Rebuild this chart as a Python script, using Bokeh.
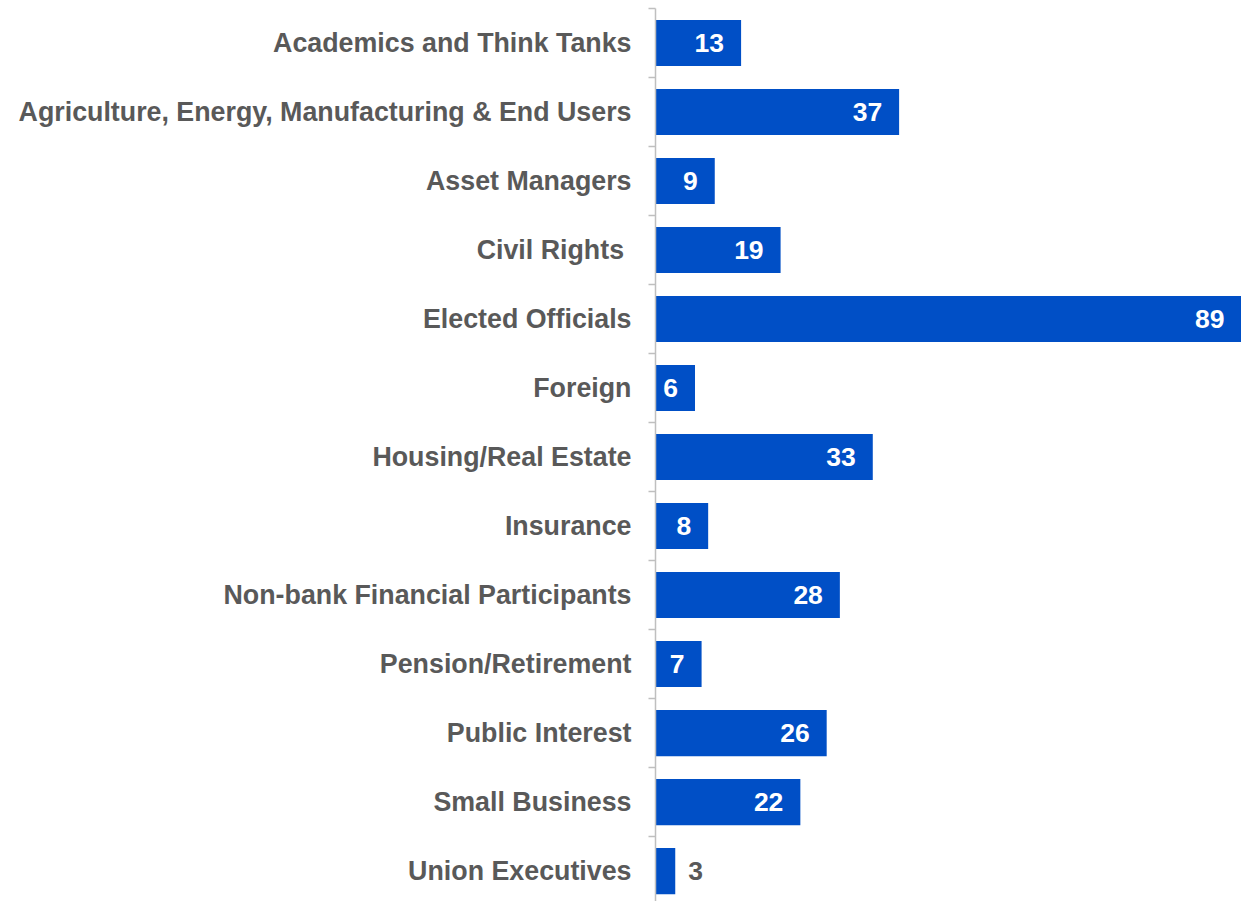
from bokeh.plotting import figure
from bokeh.models import Range1d, FixedTicker, ColumnDataSource
from bokeh.core.properties import value
from bokeh.embed import file_html
from bokeh.resources import INLINE

categories = [
    "Academics and Think Tanks",
    "Agriculture, Energy, Manufacturing & End Users",
    "Asset Managers",
    "Civil Rights ",
    "Elected Officials",
    "Foreign",
    "Housing/Real Estate",
    "Insurance",
    "Non-bank Financial Participants",
    "Pension/Retirement",
    "Public Interest",
    "Small Business",
    "Union Executives",
]
counts = [13, 37, 9, 19, 89, 6, 33, 8, 28, 7, 26, 22, 3]

n = len(categories)
pos = list(range(n))
labels = [str(v) for v in counts]
inside = [v >= 5 for v in counts]

src_bars = ColumnDataSource(dict(y=pos, v=counts))
src_in = ColumnDataSource(dict(
    y=[p_ for p_, k in zip(pos, inside) if k],
    v=[v for v, k in zip(counts, inside) if k],
    t=[t for t, k in zip(labels, inside) if k],
))
src_out = ColumnDataSource(dict(
    y=[p_ for p_, k in zip(pos, inside) if not k],
    v=[v for v, k in zip(counts, inside) if not k],
    t=[t for t, k in zip(labels, inside) if not k],
))

FONT = "Liberation Sans"
GRAY = "#595959"
BLUE = "#004FC6"

p = figure(
    width=1241, height=901,
    x_range=Range1d(0, 89), y_range=Range1d(12.44, -0.5),
    output_backend="svg", toolbar_location=None,
    x_axis_location=None,
    min_border_left=655, min_border_right=0, min_border_top=8, min_border_bottom=0,
)
p.outline_line_color = None
p.xgrid.visible = False
p.ygrid.visible = False

p.hbar(y="y", right="v", left=0, height=0.667, source=src_bars,
       fill_color=BLUE, line_color=None)

p.text(x="v", y="y", text="t", source=src_in, x_offset=-17,
       text_align="right", text_baseline="middle", text_color="white",
       text_font=value(FONT), text_font_style="bold", text_font_size="26.5px")
p.text(x="v", y="y", text="t", source=src_out, x_offset=13,
       text_align="left", text_baseline="middle", text_color=GRAY,
       text_font=value(FONT), text_font_style="bold", text_font_size="26.5px")

ax = p.yaxis[0]
ax.ticker = FixedTicker(ticks=pos, minor_ticks=[i - 0.5 for i in range(n + 1)])
ax.major_label_overrides = {i: c for i, c in zip(pos, categories)}
ax.major_tick_line_color = None
ax.major_tick_out = 0
ax.major_tick_in = 0
ax.minor_tick_out = 7
ax.minor_tick_in = 0
ax.minor_tick_line_color = "#BFBFBF"
ax.minor_tick_line_width = 1.5
ax.axis_line_color = "#BFBFBF"
ax.axis_line_width = 1.5
ax.major_label_standoff = 17
ax.major_label_text_font = FONT
ax.major_label_text_font_style = "bold"
ax.major_label_text_font_size = "26.8px"
ax.major_label_text_color = GRAY

open("out.html", "w").write(file_html(p, INLINE))
